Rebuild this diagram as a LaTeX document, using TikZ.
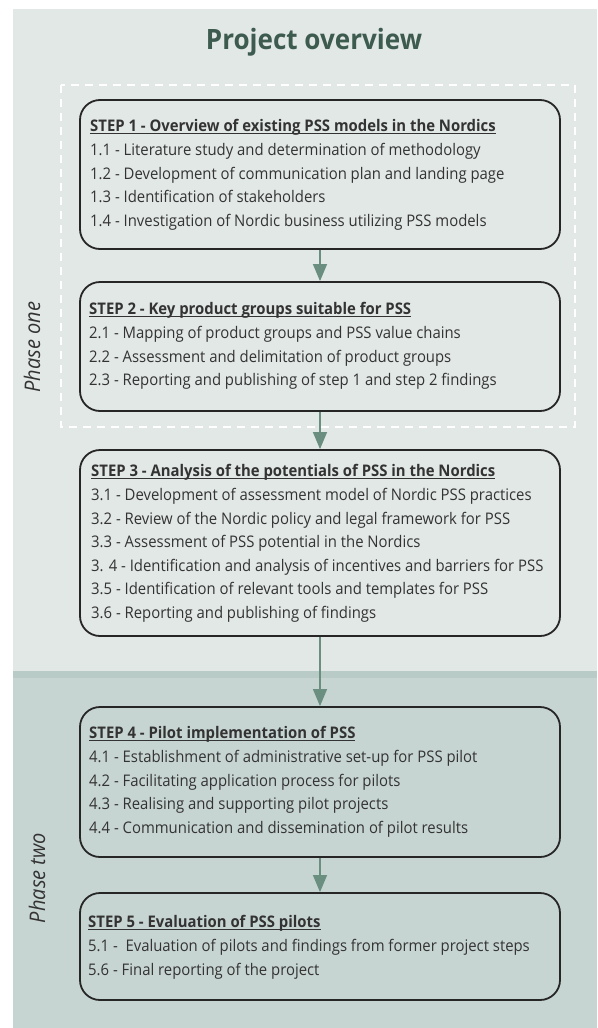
\documentclass[tikz,border=0pt]{standalone}
\usepackage{fontspec}
\setmainfont{Open Sans}[FakeStretch=0.93]
\usetikzlibrary{arrows.meta}
\definecolor{phaseone}{HTML}{E2E8E6}
\definecolor{phasetwo}{HTML}{C7D5D2}
\definecolor{band}{HTML}{B8CBC6}
\definecolor{titlegreen}{HTML}{3E5B50}
\definecolor{arrowgreen}{HTML}{6A8E80}
\definecolor{txt}{HTML}{333333}
\newcommand\sttl[1]{\leavevmode{\setbox0\hbox{\bfseries #1}\rlap{\rule[-1.8pt]{\wd0}{0.9pt}}\box0}}
\begin{document}
\begin{tikzpicture}[x=1pt,y=-1pt,
  stepbox/.style={draw=black!85, line width=1.8pt, rounded corners=20pt, minimum width=480pt, inner sep=0pt},
  steptext/.style={anchor=base west, inner sep=0pt, text=txt, font=\fontsize{16}{23.6}\selectfont},
  phaselabel/.style={rotate=90, inner sep=0pt, text=txt, font=\fontsize{21.5}{24}\selectfont\itshape},
  flow/.style={draw=arrowgreen, line width=1.3pt, -{Triangle[width=14pt,length=17pt]}}
]
\useasboundingbox (0,0) rectangle (597,1028);
\fill[white] (0,0) rectangle (597,1028);
\fill[phaseone] (13,9) rectangle (597,671);
\fill[band] (13,671) rectangle (597,678);
\fill[phasetwo] (13,678) rectangle (597,1028);
\draw[white, line width=2pt, dash pattern=on 8pt off 6pt] (61,85) rectangle (575,427);

\node[anchor=base, inner sep=0pt, text=titlegreen, font=\fontsize{28}{32}\selectfont\bfseries] (title) at (314,49.3) {Project overview};

\node[phaselabel] (p1) at (32,347) {Phase one};
\node[phaselabel] (p2) at (37,878) {Phase two};

\node[stepbox, minimum height=149pt] (s1) at (320,174.5) {};
\node[stepbox, minimum height=129pt] (s2) at (320,346.5) {};
\node[stepbox, minimum height=186pt] (s3) at (320,543) {};
\node[stepbox, minimum height=150pt] (s4) at (320,782) {};
\node[stepbox, minimum height=107pt] (s5) at (320,946.5) {};

\node[steptext] (t1) at (90,131.8) {\parbox[t]{465pt}{\sttl{STEP 1 - Overview of existing PSS models in the Nordics}\\
1.1 - Literature study and determination of methodology\\
1.2 - Development of communication plan and landing page\\
1.3 - Identification of stakeholders\\
1.4 - Investigation of Nordic business utilizing PSS models}};

\node[steptext] (t2) at (89,314.8) {\parbox[t]{465pt}{\sttl{STEP 2 - Key product groups suitable for PSS}\\
2.1 - Mapping of product groups and PSS value chains\\
2.2 - Assessment and delimitation of product groups\\
2.3 - Reporting and publishing of step 1 and step 2 findings}};

\node[steptext] (t3) at (91,476.8) {\parbox[t]{465pt}{\sttl{STEP 3 - Analysis of the potentials of PSS in the Nordics}\\
3.1 - Development of assessment model of Nordic PSS practices\\
3.2 - Review of the Nordic policy and legal framework for PSS\\
3.3 - Assessment of PSS potential in the Nordics\\
3. 4 - Identification and analysis of incentives and barriers for PSS\\
3.5 - Identification of relevant tools and templates for PSS\\
3.6 - Reporting and publishing of findings}};

\node[steptext] (t4) at (89,738.8) {\parbox[t]{465pt}{\sttl{STEP 4 - Pilot implementation of PSS}\\
4.1 - Establishment of administrative set-up for PSS pilot\\
4.2 - Facilitating application process for pilots\\
4.3 - Realising and supporting pilot projects\\
4.4 - Communication and dissemination of pilot results}};

\node[steptext] (t5) at (88,927.8) {\parbox[t]{465pt}{\sttl{STEP 5 - Evaluation of PSS pilots}\\
5.1 -\ \ Evaluation of pilots and findings from former project steps\\
5.6 - Final reporting of the project}};

\draw[flow] (s1.south) -- (s2.north);
\draw[flow] (s2.south) -- (s3.north);
\draw[flow] (s3.south) -- (s4.north);
\draw[flow] (s4.south) -- (s5.north);
\end{tikzpicture}
\end{document}
